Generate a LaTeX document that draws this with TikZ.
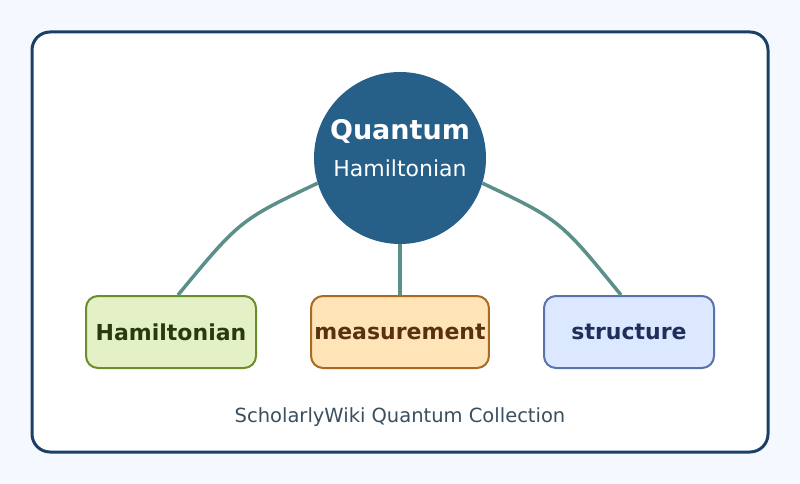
\documentclass[tikz,border=0pt]{standalone}
\usepackage{fontspec}
\setmainfont{DejaVu Sans}
\definecolor{pagebg}{HTML}{F5F8FE}
\definecolor{framec}{HTML}{1B3F66}
\definecolor{hubc}{HTML}{265F87}
\definecolor{linkc}{HTML}{5A8F8A}
\definecolor{footc}{HTML}{3A4F5F}
\begin{document}
\begin{tikzpicture}[x=1pt, y=-1pt,
    hub/.style={circle, fill=hubc, minimum size=172pt, inner sep=0pt, text=white, align=center},
    leaf/.style={rectangle, rounded corners=12pt, line width=2pt, minimum width=170pt, minimum height=72pt, font=\fontsize{22}{26}\selectfont\bfseries},
    link/.style={line width=3.5pt, draw=linkc}]
            % background and frame
            \fill[pagebg] (0,0) rectangle (800,484);
            \draw[framec, line width=3pt, fill=white, rounded corners=18pt] (32,32) rectangle (768,452);
            % nodes
            \node[hub] (quantum) at (400,158) {};
            \node[text=white, font=\fontsize{27}{32}\selectfont\bfseries] (qtitle) at (400,131) {Quantum};
            \node[text=white, font=\fontsize{22}{26}\selectfont] (qsub) at (400,168) {Hamiltonian};

            \node[leaf, fill={rgb,255:red,228;green,240;blue,198}, draw={rgb,255:red,107;green,142;blue,42}, text={rgb,255:red,42;green,58;blue,16}] (hamil) at (171,332) {Hamiltonian};
            \node[leaf, fill={rgb,255:red,255;green,228;blue,184}, draw={rgb,255:red,168;green,106;blue,32}, text={rgb,255:red,90;green,48;blue,16}] (meas) at (400,332) {measurement};
            \node[leaf, fill={rgb,255:red,220;green,232;blue,255}, draw={rgb,255:red,90;green,114;blue,170}, text={rgb,255:red,31;green,46;blue,90}] (struct) at (629,332) {structure};

            \node[text=footc, font=\fontsize{19.5}{23}\selectfont] (footer) at (400,417) {ScholarlyWiki Quantum Collection};
            % edges
            \draw[link] (quantum.197) .. controls (240,220) .. ([xshift=7pt]hamil.north);
            \draw[link] (quantum.south) -- (meas.north);
            \draw[link] (quantum.343) .. controls (560,220) .. ([xshift=-8pt]struct.north);
\end{tikzpicture}
\end{document}
